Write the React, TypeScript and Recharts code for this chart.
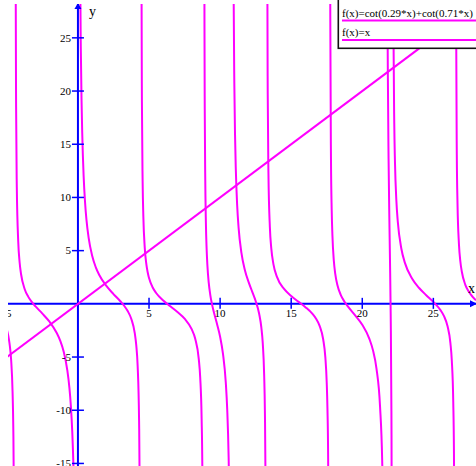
import { LineChart, Line, XAxis, YAxis, ReferenceLine, ReferenceDot } from "recharts";

const X_DOMAIN: [number, number] = [-4.92, 28];
const Y_DOMAIN: [number, number] = [-15.24, 28.18];

const X_TICKS = [-5, 5, 10, 15, 20, 25];
const Y_TICKS = [25, 20, 15, 10, 5, -5, -10, -15];

const SERIES = ["f(x)=cot(0.29*x)+cot(0.71*x)", "f(x)=x"];

// f(x)=cot(0.29x)+cot(0.71x), one list per branch between two poles: [x, y]
const branchA = [[-5, -2.43], [-4.95, -2.69], [-4.85, -3.38], [-4.8, -3.85], [-4.7, -5.26], [-4.6, -8.24], [-4.55, -11.48], [-4.5, -18.98], [-4.47, -31.4]];
const branchB = [[-4.4, 56.5], [-4.38, 31.1], [-4.35, 18.5], [-4.3, 10.93], [-4.2, 5.85], [-4.1, 3.86], [-4.0, 2.78], [-3.75, 1.4], [-3.5, 0.68], [-3.25, 0.18], [-3.0, -0.22], [-2.5, -0.92], [-2.0, -1.68], [-1.5, -2.71], [-1.25, -3.45], [-1.0, -4.51], [-0.75, -6.22], [-0.6, -7.89], [-0.5, -9.55], [-0.4, -12.01], [-0.3, -16.1], [-0.25, -19.35], [-0.2, -24.2], [-0.15, -32.3]];
const branchC = [[0.1, 48.5], [0.15, 32.3], [0.2, 24.2], [0.25, 19.35], [0.3, 16.1], [0.4, 12.01], [0.5, 9.55], [0.6, 7.89], [0.75, 6.22], [1.0, 4.51], [1.25, 3.45], [1.5, 2.71], [2.0, 1.68], [2.5, 0.92], [3.0, 0.22], [3.25, -0.18], [3.5, -0.68], [3.75, -1.4], [4.0, -2.78], [4.1, -3.86], [4.2, -5.85], [4.3, -10.93], [4.35, -18.5], [4.38, -31.1]];
const branchD = [[4.45, 56.1], [4.47, 31.4], [4.5, 18.98], [4.55, 11.48], [4.6, 8.24], [4.7, 5.26], [4.8, 3.85], [4.85, 3.38], [4.95, 2.69], [5.0, 2.43], [5.25, 1.56], [5.5, 1.02], [6.0, 0.32], [6.5, -0.23], [7.0, -0.76], [7.5, -1.39], [8.0, -2.38], [8.25, -3.28], [8.5, -5.19], [8.6, -6.91], [8.7, -10.79], [8.75, -15.57], [8.8, -29.7]];
const branchE = [[8.88, 44.7], [8.9, 26.3], [8.92, 18.37], [8.95, 12.36], [9.0, 7.63], [9.05, 5.22], [9.1, 3.75], [9.2, 1.99], [9.3, 0.92], [9.4, 0.16], [9.5, -0.45], [9.6, -0.98], [9.8, -1.98], [10.0, -3.09], [10.2, -4.68], [10.4, -7.4], [10.5, -9.9], [10.6, -14.43], [10.65, -18.52], [10.7, -25.6], [10.75, -41.3]];
const branchF = [[10.9, 51.6], [10.95, 29.6], [11.0, 20.7], [11.05, 15.88], [11.1, 12.86], [11.2, 9.26], [11.3, 7.17], [11.5, 4.79], [11.75, 3.14], [12.0, 2.06], [12.25, 1.17], [12.5, 0.27], [12.75, -0.95], [12.9, -2.21], [13.0, -3.69], [13.1, -6.74], [13.15, -10.04], [13.2, -17.7], [13.23, -30.5]];
const branchG = [[13.3, 56], [13.32, 32.0], [13.35, 19.7], [13.4, 12.27], [13.5, 7.21], [13.6, 5.22], [13.75, 3.74], [14.0, 2.53], [14.5, 1.4], [15.0, 0.74], [15.5, 0.21], [16.0, -0.31], [16.5, -0.95], [16.75, -1.4], [17.0, -2.07], [17.25, -3.33], [17.4, -4.98], [17.5, -7.41], [17.55, -9.8], [17.6, -14.59], [17.65, -29.0]];
const branchH = [[17.73, 45.2], [17.75, 27.2], [17.8, 13.46], [17.85, 8.8], [17.9, 6.45], [18.0, 4.05], [18.1, 2.82], [18.25, 1.77], [18.5, 0.8], [18.75, 0.2], [19.0, -0.27], [19.5, -1.08], [20.0, -1.97], [20.5, -3.29], [20.75, -4.35], [21.0, -6.09], [21.25, -9.64], [21.4, -14.7], [21.5, -22.84], [21.55, -31.98]];
const branchI = [[21.7, 98.7], [21.75, 37.5], [21.8, 21.5], [21.85, 13.67], [21.9, 8.5], [21.95, 4.06], [22.0, -1.04], [22.05, -10.08], [22.08, -23.7], [22.1, -50.9]];
const branchJ = [[22.15, 61.1], [22.17, 37.4], [22.2, 24.9], [22.25, 17.0], [22.3, 13.34], [22.4, 9.66], [22.5, 7.71], [22.75, 5.18], [23.0, 3.85], [23.5, 2.38], [24.0, 1.49], [24.5, 0.81], [25.0, 0.18], [25.5, -0.59], [25.75, -1.16], [26.0, -2.11], [26.2, -3.69], [26.3, -5.37], [26.4, -9.23], [26.45, -14.05], [26.5, -28.7]];
const branchK = [[26.58, 45.2], [26.6, 27.6], [26.65, 14.0], [26.7, 9.39], [26.8, 5.63], [26.9, 3.98], [27.0, 3.04], [27.25, 1.79], [27.5, 1.13], [27.75, 0.68], [28.0, 0.33]];

// f(x)=x
const identity = [[-5, -5], [28, 28]];

const MAGENTA = "#ff00ff";
const BLUE = "#0000ff";
const FONT = '"Liberation Serif", "Times New Roman", serif';

const toRows = (pts: number[][]) => pts.map(([x, y]) => ({ x, y }));
const BRANCHES = [branchA, branchB, branchC, branchD, branchE, branchF, branchG, branchH, branchI, branchJ, branchK].map(toRows);

function XTick({ cx, cy, label }: { cx: number; cy: number; label: string }) {
  return (
    <g>
      <line x1={cx} x2={cx} y1={cy - 6} y2={cy + 5} stroke={BLUE} strokeWidth={1.5} />
      <text x={cx} y={cy + 13.5} textAnchor="middle" fontFamily={FONT} fontSize={11} fill="#000">
        {label}
      </text>
    </g>
  );
}

function YTick({ cx, cy, label }: { cx: number; cy: number; label: string }) {
  return (
    <g>
      <line x1={cx - 6} x2={cx + 6} y1={cy} y2={cy} stroke={BLUE} strokeWidth={1.5} />
      <text x={cx - 7} y={cy + 3.8} textAnchor="end" fontFamily={FONT} fontSize={11} fill="#000">
        {label}
      </text>
    </g>
  );
}

function YArrow({ cx, cy }: { cx: number; cy: number }) {
  return (
    <g>
      <polygon points={`${cx},${cy - 1} ${cx - 3.5},${cy + 5} ${cx + 3.5},${cy + 5}`} fill={BLUE} />
      <text x={cx + 11} y={cy + 12} fontFamily={FONT} fontSize={14} fill="#000">
        y
      </text>
    </g>
  );
}

function XArrow({ cx, cy }: { cx: number; cy: number }) {
  return (
    <g>
      <polygon points={`${cx + 1},${cy} ${cx - 6},${cy - 3.5} ${cx - 6},${cy + 3.5}`} fill={BLUE} />
      <text x={cx - 8} y={cy - 10.5} fontFamily={FONT} fontSize={14} fill="#000">
        x
      </text>
    </g>
  );
}

export default function App() {
  return (
    <>
      <div style={{ position: "absolute", left: 8, top: 4 }}>
        <LineChart width={468} height={462} margin={{ top: 0, right: 0, bottom: 0, left: 0 }}>
          <XAxis type="number" dataKey="x" domain={X_DOMAIN} allowDataOverflow hide />
          <YAxis type="number" dataKey="y" domain={Y_DOMAIN} allowDataOverflow hide />
          <ReferenceLine x={0} stroke={BLUE} strokeWidth={2} />
          <ReferenceLine y={0} stroke={BLUE} strokeWidth={2} />
          {X_TICKS.map((t) => (
            <ReferenceDot
              key={`xt${t}`}
              x={t}
              y={0}
              ifOverflow="visible"
              shape={(p: any) => <XTick cx={p.cx} cy={p.cy} label={String(t)} />}
            />
          ))}
          {Y_TICKS.map((t) => (
            <ReferenceDot
              key={`yt${t}`}
              x={0}
              y={t}
              ifOverflow="visible"
              shape={(p: any) => <YTick cx={p.cx} cy={p.cy} label={String(t)} />}
            />
          ))}
          <ReferenceDot x={0} y={Y_DOMAIN[1]} ifOverflow="visible" shape={(p: any) => <YArrow cx={p.cx} cy={p.cy} />} />
          <ReferenceDot x={X_DOMAIN[1]} y={0} ifOverflow="visible" shape={(p: any) => <XArrow cx={p.cx} cy={p.cy} />} />
          {BRANCHES.map((rows, i) => (
            <Line
              key={`b${i}`}
              data={rows}
              dataKey="y"
              name={SERIES[0]}
              type="monotone"
              stroke={MAGENTA}
              strokeWidth={2}
              dot={false}
              activeDot={false}
              isAnimationActive={false}
            />
          ))}
          <Line
            data={toRows(identity)}
            dataKey="y"
            name={SERIES[1]}
            type="linear"
            stroke={MAGENTA}
            strokeWidth={2}
            dot={false}
            activeDot={false}
            isAnimationActive={false}
          />
        </LineChart>
      </div>
      <svg width={140} height={50} style={{ position: "absolute", left: 336, top: 0 }}>
        <rect x={2.3} y={-3} width={150} height={51.3} fill="#fff" stroke="#111" strokeWidth={1.6} />
        {SERIES.map((name, i) => (
          <g key={name}>
            <text x={6} y={16.5 + i * 19} fontFamily={FONT} fontSize={11} fill="#000">
              {name}
            </text>
            <line x1={6} x2={140} y1={20.6 + i * 19.4} y2={20.6 + i * 19.4} stroke={MAGENTA} strokeWidth={2} />
          </g>
        ))}
      </svg>
    </>
  );
}
